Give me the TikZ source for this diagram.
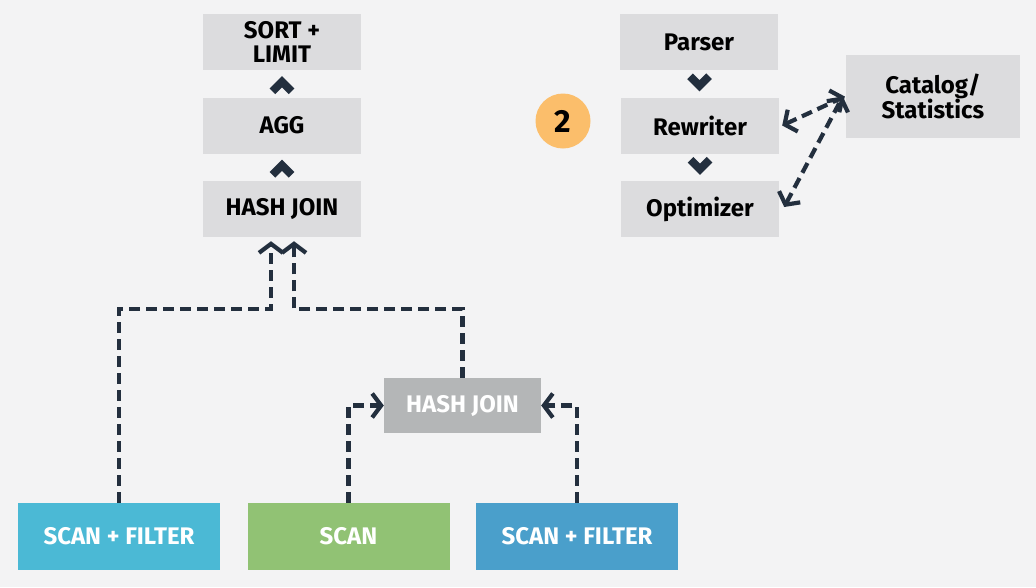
\documentclass[tikz,border=0pt]{standalone}
\usepackage{fontspec}
\setmainfont{Fira Sans}
\usetikzlibrary{arrows.meta,calc}
\definecolor{bg}{HTML}{F3F3F4}
\definecolor{boxgray}{HTML}{DCDCDE}
\definecolor{darkgray}{HTML}{B4B6B7}
\definecolor{navy}{HTML}{232F3E}
\definecolor{cyanbox}{HTML}{4BB9D5}
\definecolor{greenbox}{HTML}{91C274}
\definecolor{bluebox}{HTML}{4A9FCB}
\definecolor{orangec}{HTML}{FBBE6B}
\tikzset{
  graybox/.style={fill=boxgray,minimum width=158pt,minimum height=56pt,inner sep=0pt,align=center,font=\fontsize{24}{24}\selectfont\bfseries,text=black},
  srcbox/.style={minimum width=202pt,minimum height=67pt,inner sep=0pt,font=\fontsize{24}{24}\selectfont\bfseries,text=white},
  conn/.style={draw=navy,line width=4.2pt,dash pattern=on 11pt off 6pt,-{Straight Barb[length=9pt,width=24pt]}},
  biconn/.style={draw=navy,line width=4.2pt,dash pattern=on 11pt off 6pt,{Straight Barb[length=9pt,width=24pt]}-{Straight Barb[length=9pt,width=24pt]}},
  chev/.style={draw=navy,line width=8pt,miter limit=10}
}
\begin{document}
\begin{tikzpicture}[x=1pt,y=-1pt]
\fill[bg] (0,0) rectangle (1036,587);
\useasboundingbox (0,0) rectangle (1036,587);
% left plan
\node[graybox] (sort) at (282,42) {SORT +\\LIMIT};
\node[graybox] (agg) at (282,125.5) {AGG};
\node[graybox] (hj1) at (282,209) {HASH JOIN};
\node[graybox,fill=darkgray,text=white,minimum width=157pt,minimum height=55pt] (hj2) at (462.5,405.5) {HASH JOIN};
\node[srcbox,fill=cyanbox] (sf1) at (119,536.5) {SCAN + FILTER};
\node[srcbox,fill=greenbox] (scan) at (348.5,536.5) {SCAN};
\node[srcbox,fill=bluebox] (sf2) at (577,536.5) {SCAN + FILTER};
% right pipeline
\node[graybox] (parser) at (699,42) {Parser};
\node[graybox] (rew) at (700,125.5) {Rewriter};
\node[graybox] (opt) at (700,209) {Optimizer};
\node[graybox,minimum width=174pt,minimum height=83pt] (cat) at (933,96.5) {Catalog/\\Statistics};
\node[circle,fill=orangec,minimum size=55pt,inner sep=0pt,font=\fontsize{32}{34}\selectfont\bfseries] (two) at (563,121) {2};
% chevrons
\coordinate (c1) at ($(agg.north)!0.5!(sort.south)$);
\coordinate (c2) at ($(hj1.north)!0.5!(agg.south)$);
\coordinate (c3) at ($(parser.south)!0.5!(rew.north)$);
\coordinate (c4) at ($(rew.south)!0.5!(opt.north)$);
\draw[chev] ($(c1)+(-9.5,7.5)$) -- ($(c1)+(0,-2)$) -- ($(c1)+(9.5,7.5)$);
\draw[chev] ($(c2)+(-9.5,7.5)$) -- ($(c2)+(0,-2)$) -- ($(c2)+(9.5,7.5)$);
\draw[chev] ($(c3)+(-9.5,-7.5)$) -- ($(c3)+(0,2)$) -- ($(c3)+(9.5,-7.5)$);
\draw[chev] ($(c4)+(-9.5,-7.5)$) -- ($(c4)+(0,2)$) -- ($(c4)+(9.5,-7.5)$);
% connectors
\draw[conn] (sf1.north) |- ($(hj1.south)+(-11,72)$) -- ($(hj1.south)+(-11,4)$);
\draw[conn] (hj2.north) |- ($(hj1.south)+(12,72)$) -- ($(hj1.south)+(12,4)$);
\draw[conn] (scan.north) |- (hj2.west);
\draw[conn] (sf2.north) |- (hj2.east);
\draw[biconn] ($(rew.east)+(3,0)$) -- ($(cat.west)+(-1,0)$);
\draw[biconn] ($(opt.east)+(5,-2)$) -- ($(cat.west)+(-3,0)$);
\end{tikzpicture}
\end{document}
